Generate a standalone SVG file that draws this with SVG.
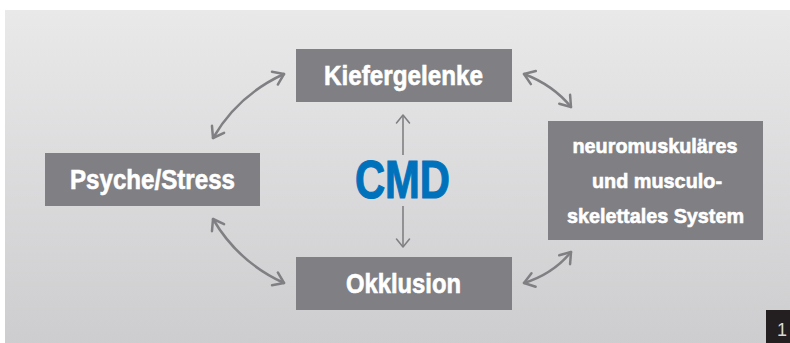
<svg xmlns="http://www.w3.org/2000/svg" width="790" height="343" viewBox="0 0 790 343">
  <defs>
    <linearGradient id="bg" x1="0" y1="0" x2="0" y2="1">
      <stop offset="0" stop-color="#e9e9ea"/>
      <stop offset="1" stop-color="#cdcdcf"/>
    </linearGradient>
    <marker id="ah" markerUnits="userSpaceOnUse" viewBox="-12 -8 14 16" refX="0" refY="0" markerWidth="14" markerHeight="16" orient="auto-start-reverse" overflow="visible">
      <path d="M-10,-7 L0,0 L-10,7" fill="none" stroke="#808084" stroke-width="2.5" stroke-linecap="round" stroke-linejoin="round"/>
    </marker>
    <marker id="ahs" markerUnits="userSpaceOnUse" viewBox="-10 -8 12 16" refX="0" refY="0" markerWidth="12" markerHeight="16" orient="auto-start-reverse" overflow="visible">
      <path d="M-8,-6.5 L0,0 L-8,6.5" fill="none" stroke="#808084" stroke-width="1.6" stroke-linecap="round" stroke-linejoin="round"/>
    </marker>
  </defs>
  <style>
    .box { fill: #808084; }
    .lbl { font-family: "Liberation Sans", Arial, sans-serif; font-weight: bold; fill: #ffffff; stroke: #ffffff; stroke-width: 0.6; text-anchor: middle; }
    .big { font-size: 27px; }
    .small { font-size: 21px; }
    .conn { fill: none; stroke: #808084; stroke-width: 2.5; stroke-linecap: round; }
    .vconn { fill: none; stroke: #808084; stroke-width: 1.6; }
  </style>
  <rect x="0" y="0" width="790" height="343" fill="#ffffff"/>
  <rect x="5" y="10" width="785" height="333" fill="url(#bg)"/>

  <g id="connectors">
    <path class="conn" d="M213,138 Q238,95 284,74" marker-start="url(#ah)" marker-end="url(#ah)"/>
    <path class="conn" d="M524,74 Q553,85 571,107" marker-start="url(#ah)" marker-end="url(#ah)"/>
    <path class="conn" d="M213,219 Q238,262 284,283" marker-start="url(#ah)" marker-end="url(#ah)"/>
    <path class="conn" d="M571,252 Q553,274 524,283" marker-start="url(#ah)" marker-end="url(#ah)"/>
    <path class="vconn" d="M403,155 L403,115" marker-end="url(#ahs)"/>
    <path class="vconn" d="M403,206 L403,247" marker-end="url(#ahs)"/>
  </g>

  <g id="kiefergelenke">
    <rect class="box" x="296" y="49" width="216" height="53"/>
    <text class="lbl big" x="403.5" y="84.5" textLength="159" lengthAdjust="spacingAndGlyphs">Kiefergelenke</text>
  </g>
  <g id="psyche">
    <rect class="box" x="45" y="153" width="215" height="53"/>
    <text class="lbl big" x="152.5" y="188.5" textLength="165" lengthAdjust="spacingAndGlyphs">Psyche/Stress</text>
  </g>
  <g id="okklusion">
    <rect class="box" x="296" y="257" width="216" height="53"/>
    <text class="lbl big" x="403.5" y="293" textLength="115" lengthAdjust="spacingAndGlyphs">Okklusion</text>
  </g>
  <g id="system">
    <rect class="box" x="548" y="121" width="215" height="119"/>
    <text class="lbl small" x="655" y="152.7" textLength="165" lengthAdjust="spacingAndGlyphs">neuromuskuläres</text>
    <text class="lbl small" x="657" y="187.7" textLength="130" lengthAdjust="spacingAndGlyphs">und musculo-</text>
    <text class="lbl small" x="655.5" y="222.7" textLength="177" lengthAdjust="spacingAndGlyphs">skelettales System</text>
  </g>
  <g id="cmd">
    <text x="402.5" y="198" font-family="Liberation Sans, Arial, sans-serif" font-weight="bold" font-size="54" fill="#0072bc" stroke="#0072bc" stroke-width="1.2" text-anchor="middle" textLength="95" lengthAdjust="spacingAndGlyphs">CMD</text>
  </g>
  <g id="figure-number">
    <rect x="766" y="310" width="24" height="33" fill="#231f20"/>
    <text x="782" y="336" font-family="Liberation Sans, Arial, sans-serif" font-size="18" fill="#d8d8d8" text-anchor="middle">1</text>
  </g>
</svg>
